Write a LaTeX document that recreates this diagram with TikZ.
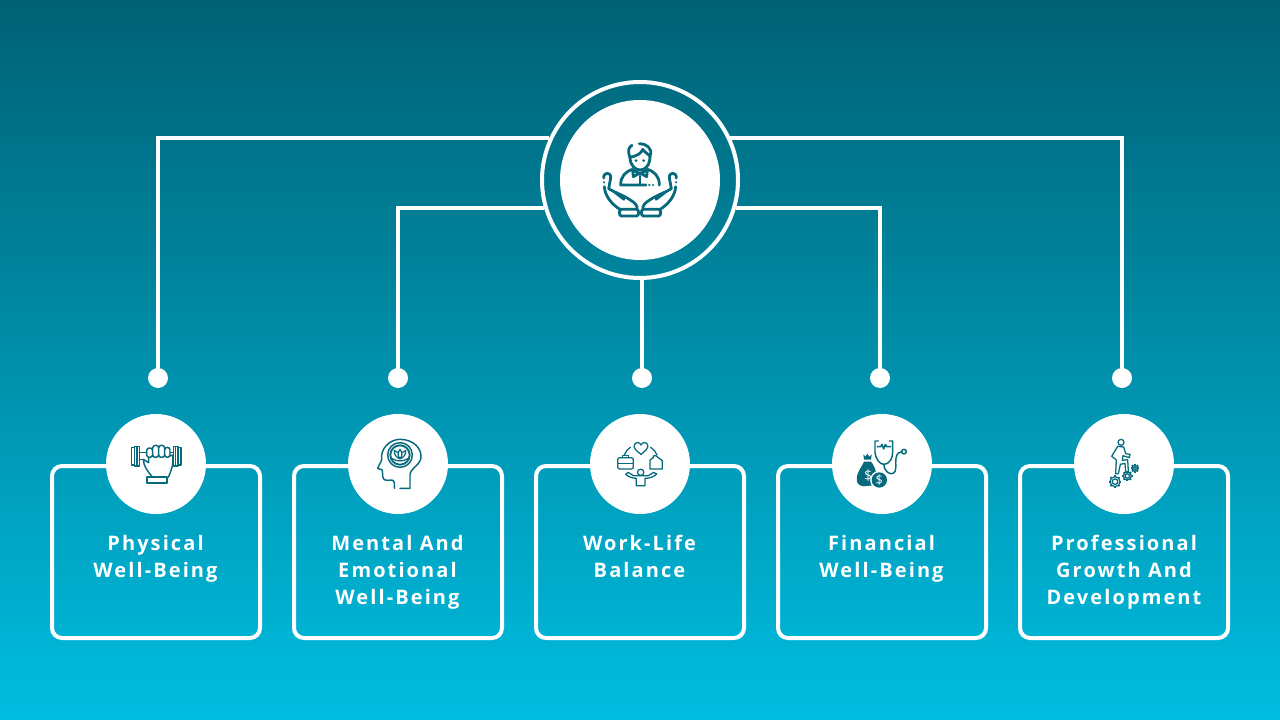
\documentclass[tikz,border=0pt]{standalone}
\usepackage{fontspec}
\setmainfont{Open Sans}
\newfontfamily\cardfont[LetterSpace=10.5]{Open Sans}
\usetikzlibrary{calc}
\definecolor{bgtop}{HTML}{005566}
\definecolor{bgbot}{HTML}{00C9EE}
\definecolor{icon}{HTML}{06697C}
\newcommand{\cardstrut}{\rule{0pt}{15pt}}
\tikzset{
  px/.style={x=.75pt,y=-.75pt},
  zm/.style={x=.25pt,y=-.25pt},
  wire/.style={draw=white,line width=3pt},
  dotnode/.style={circle,fill=white,minimum size=15pt,inner sep=0pt},
  cardbox/.style={draw=white,line width=3pt,rounded corners=7.5pt},
  badge/.style={circle,fill=white,minimum size=75pt,inner sep=0pt},
  cardtext/.style={text=white,align=center,inner sep=0pt,font=\cardfont\bfseries\fontsize{15}{20.25}\selectfont,anchor=north},
  ic/.style={draw=icon,line width=1.1pt,line cap=round,line join=round},
  icl/.style={draw=icon,line width=.95pt,line cap=round,line join=round},
  icb/.style={draw=icon,line width=2.1pt,line cap=round,line join=round},
}
\begin{document}
\begin{tikzpicture}[px]
\useasboundingbox (0,0) rectangle (1280,720);
\begin{scope}
\clip (0,0) rectangle (1280,720);
\shade[top color=bgtop,bottom color=bgbot,rotate around={-4:(640,360)}] (-100,-45) rectangle (1380,765);
\end{scope}
% hub
\node[circle,draw=white,line width=3pt,minimum size=147pt,inner sep=0pt] (ring) at (640,180) {};
\node[circle,fill=white,minimum size=120pt,inner sep=0pt] (hub) at (640,180) {};
% dots
\node[dotnode] (d1) at (158,378) {};
\node[dotnode] (d2) at (398,378) {};
\node[dotnode] (d3) at (642,378) {};
\node[dotnode] (d4) at (880,378) {};
\node[dotnode] (d5) at (1122,378) {};
% connectors
\draw[wire] (d1.center) |- (ring.155.2);
\draw[wire] (d5.center) |- (ring.26 |- ring.155.2);
\draw[wire] (d2.center) |- (ring.196.3);
\draw[wire] (d4.center) |- (ring.-16.3);
\draw[wire] (d3.center) -- (d3 |- ring.south);
% cards
\foreach \n/\x in {1/52,2/294,3/536,4/778,5/1020}{
  \draw[cardbox] (\x,466) rectangle (\x+208,638);
}
\foreach \n/\x in {1/156,2/398,3/640,4/882,5/1124}{
  \node[badge] (b\n) at (\x,464) {};
}
\node[cardtext] (t1) at (155.5,530) {\cardstrut Physical\\Well-Being};
\node[cardtext] (t2) at (397.5,530) {\cardstrut Mental And\\Emotional\\Well-Being};
\node[cardtext] (t3) at (639.5,530) {\cardstrut Work-Life\\Balance};
\node[cardtext] (t4) at (881.5,530) {\cardstrut Financial\\Well-Being};
\node[cardtext] (t5) at (1124,530) {\cardstrut Professional\\Growth And\\Development};
% hub icon
\begin{scope}[shift={(580,120)},zm]
\draw[icb] (150,112) .. controls (150,135) and (165,150) .. (180,150) .. controls (197,150) and (210,135) .. (210,108);
\draw[icb] (150,112) .. controls (141,90) and (148,80) .. (156,76);
\draw[icb] (150,112) .. controls (170,108) and (185,100) .. (188,88) .. controls (195,98) and (205,102) .. (210,108);
\draw[icb] (178,71) .. controls (197,70) and (220,85) .. (210,108);
\fill[icon] (168,122) circle (4.5) (191,122) circle (4.5);
\draw[icb] (158,150) -- (178,160) -- (160,170) -- cycle (202,150) -- (182,160) -- (200,170) -- cycle;
\draw[icb] (158,148) .. controls (135,155) and (122,170) .. (122,195) -- (198,195);
\draw[icb] (202,148) .. controls (225,155) and (238,170) .. (238,195);
\fill[icon] (208,195) circle (3.5) (219,195) circle (3.5);
\draw[icb] (180,168) -- (180,193);
\foreach \sx/\ox in {1/0,-1/360}{
\begin{scope}[shift={(\ox,0)},xscale=\sx]
\draw[icb] (71,174) .. controls (70,155) and (94,155) .. (92,174) -- (86,206) .. controls (105,218) and (130,226) .. (148,238) .. controls (165,248) and (174,258) .. (171,268);
\draw[icb] (73,200) .. controls (75,230) and (98,255) .. (120,268);
\fill[icon] (72,187) circle (3.5);
\draw[icb] (106,218) -- (132,238);
\draw[icb] (124,268) -- (170,268) .. controls (178,268) and (178,288) .. (170,288) -- (124,288) .. controls (116,288) and (116,268) .. (124,268);
\end{scope}}
\end{scope}
% dumbbell
\begin{scope}[shift={(100,420)},zm]
\draw[ic] (95,83) rectangle (104,135) (104,80) rectangle (118,138);
\draw[ic] (220,80) rectangle (234,138) (234,83) rectangle (243,135);
\draw[ic] (111,80) -- (111,138) (227,80) -- (227,138);
\draw[ic] (118,98) -- (140,98) (118,118) -- (130,118) (210,98) -- (220,98);
\draw[ic,rounded corners=2pt] (140,84) rectangle (158,112) (158,76) rectangle (176,112) (176,76) rectangle (194,112) (194,82) rectangle (210,112);
\draw[ic] (130,118) .. controls (131,140) and (142,152) .. (158,172) (218,105) .. controls (222,135) and (212,155) .. (205,172) (130,118) -- (146,128) (146,128) -- (146,112) (210,108) -- (218,105);
\draw[ic,line width=1.3pt] (140,172) rectangle (200,190);
\end{scope}
% head
\begin{scope}[shift={(350,420)},zm]
\draw[ic] (133,205) .. controls (135,190) and (132,180) .. (125,180) .. controls (110,182) and (98,182) .. (98,168) -- (97,150) -- (83,145) -- (95,120) .. controls (90,85) and (120,58) .. (150,58) .. controls (190,58) and (215,85) .. (213,112) .. controls (212,135) and (180,145) .. (180,165) -- (180,205) -- (150,205);
\draw[ic] (150,105) circle (37);
\draw[ic,line width=1.4pt] (150,105) circle (29);
\draw[icl] (150,88) .. controls (143,96) and (142,108) .. (150,116) .. controls (158,108) and (157,96) .. (150,88);
\draw[icl] (144,98) .. controls (140,95) and (136,93) .. (133,92) .. controls (132,103) and (138,112) .. (150,116) .. controls (162,112) and (168,103) .. (167,92) .. controls (164,93) and (160,95) .. (156,98);
\draw[icl] (127,116) .. controls (140,125) and (160,125) .. (173,116);
\end{scope}
% work-life
\begin{scope}[shift={(595,425)},zm]
\draw[icl] (138,88) .. controls (125,78) and (115,70) .. (118,60) .. controls (122,50) and (134,50) .. (138,60) .. controls (142,50) and (155,50) .. (158,60) .. controls (161,70) and (150,78) .. (138,88) -- cycle;
\draw[icl] (88,90) .. controls (92,80) and (98,72) .. (106,67) (167,67) .. controls (175,72) and (182,80) .. (186,90);
\draw[icl,rounded corners=1.5pt] (68,98) rectangle (115,132);
\draw[icl] (68,115) -- (115,115) (82,98) -- (82,92) -- (101,92) -- (101,98);
\draw[icl] (165,132) -- (165,105) -- (175,98) -- (175,93) -- (182,92) -- (202,107) -- (202,132) -- cycle;
\draw[icl] (137,142) circle (9.5);
\draw[icl] (92,148) .. controls (100,155) and (112,160) .. (124,160) -- (124,182) -- (150,182) -- (150,160) .. controls (165,160) and (178,155) .. (185,147);
\draw[icl] (92,148) -- (100,142) -- (115,152) -- (160,152) -- (176,142) -- (185,147);
\end{scope}
% financial
\begin{scope}[shift={(840,425)},zm]
\fill[icon] (70,88) -- (76,95) -- (82,86) -- (88,95) -- (95,88) -- (93,104) -- (72,104) -- cycle;
\fill[icon] (72,110) -- (93,110) .. controls (105,125) and (115,150) .. (108,180) -- (70,184) .. controls (50,182) and (45,165) .. (55,142) .. controls (60,130) and (68,120) .. (72,110) -- cycle;
\draw[white,line width=1.3pt] (118,165) circle (25);
\fill[icon] (118,165) circle (23);
\node[text=white,font=\fontsize{10.5}{11}\selectfont,inner sep=0pt] (dollara) at (84,153) {\$};
\node[text=white,font=\fontsize{9.5}{10}\selectfont,inner sep=0pt] (dollarb) at (118,165) {\$};
\draw[ic] (115,48) -- (105,48) -- (105,82) .. controls (108,105) and (120,118) .. (132,118) .. controls (148,118) and (158,100) .. (158,82) -- (158,48) -- (148,48);
\draw[ic] (112,65) -- (122,65) -- (126,58) -- (131,72) -- (136,58) -- (140,65) -- (152,65);
\draw[ic] (132,118) .. controls (132,140) and (150,150) .. (160,145) .. controls (172,140) and (165,115) .. (168,100) .. controls (170,85) and (178,80) .. (185,80);
\draw[ic] (192,80) circle (7);
\end{scope}
% growth
\begin{scope}[shift={(1085,425)},zm]
\draw[icl] (108,52) circle (9);
\draw[icl] (98,64) -- (116,66) -- (122,86) -- (135,88) -- (133,98) -- (114,92) -- (112,106) -- (128,104) -- (130,140) -- (122,140) -- (120,115) -- (106,118) -- (100,146) -- (92,146) -- (94,105) -- (88,100) -- (80,94) -- cycle;
\foreach \cx/\cy/\r in {90/170/15,127/153/12,150/130/9}{
  \draw[icl] (\cx,\cy) circle (\r);
  \draw[icl] (\cx,\cy) circle (\r*.55);
  \foreach \a in {0,45,...,315}{
    \draw[icl,line width=1.3pt,line cap=butt] (\cx,\cy) ++(\a:\r) -- ++(\a:4);
  }
}
\end{scope}
\end{tikzpicture}
\end{document}
